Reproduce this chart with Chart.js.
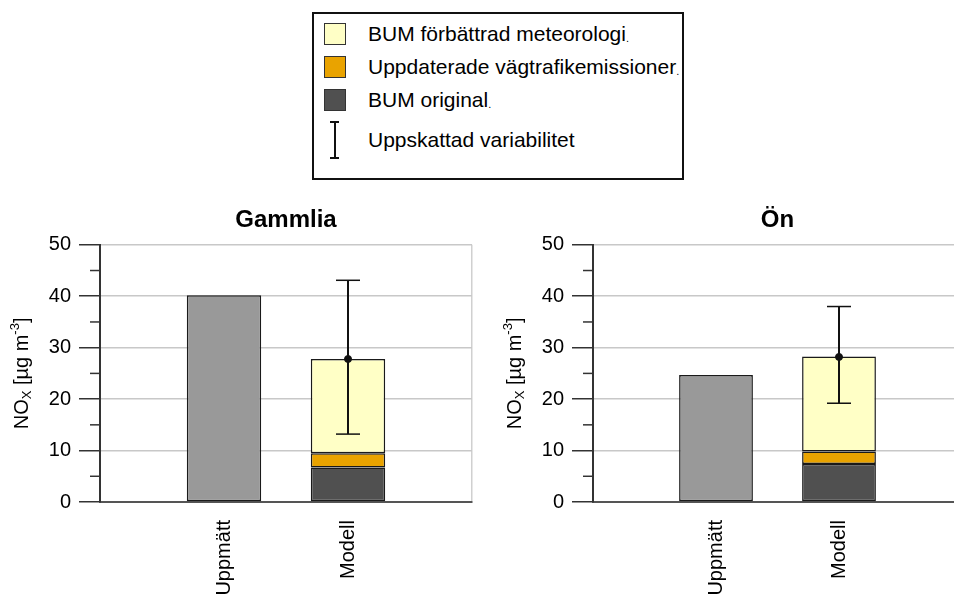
<!DOCTYPE html>
<html>
<head>
<meta charset="utf-8">
<script src="https://cdn.jsdelivr.net/npm/chart.js@4.4.0/dist/chart.umd.min.js"></script>
<style>
  html, body { margin: 0; padding: 0; background: #fff; overflow: hidden; width: 954px; height: 597px; }
  body { position: relative; font-family: "Liberation Sans", Arial, sans-serif; }
  #legend { position: absolute; left: 312px; top: 12px; width: 368px; height: 164px; border: 2px solid #111; }
  .item { position: absolute; left: 10px; height: 24px; display: flex; align-items: center; font-size: 21px; color: #000; }
  .item i { font-style: normal; font-size: 11px; align-self: flex-end; line-height: 16px; }
  .swatch { width: 22px; height: 22px; box-sizing: border-box; border: 1px solid #333; margin-right: 22px; }
  .errsym { width: 22px; height: 38px; margin-right: 22px; position: relative; }
  .errsym span { position: absolute; background: #111; }
  .wrap { position: absolute; top: 190px; height: 407px; }
</style>
</head>
<body>
<div id="legend"></div>
<div class="wrap" style="left:0; width:480px;"><canvas id="c1"></canvas></div>
<div class="wrap" style="left:480px; width:490px;"><canvas id="c2"></canvas></div>
<script>
// data
const categories = ['', 'Uppmätt', 'Modell', ''];
const stations = ['Gammlia', 'Ön'];
const uppmatt = [40.2, 24.7];
const bumOriginal = [6.7, 7.4];
const vagtrafik = [2.8, 2.4];      // added on top of BUM original
const meteorologi = [18.3, 18.5];  // added on top of that
const modelMean = [27.8, 28.2];
const errLow = [13.2, 19.2];
const errHigh = [43.1, 38.0];

const seriesLabels = ['BUM förbättrad meteorologi', 'Uppdaterade vägtrafikemissioner', 'BUM original'];
const seriesColors = ['#FFFFC6', '#E9A300', '#505050'];
const errLabel = 'Uppskattad variabilitet';

const FONT = '"Liberation Sans", Arial, sans-serif';

// html legend
const legend = document.getElementById('legend');
const rowTops = [8, 41, 74];
seriesLabels.forEach((lab, i) => {
  const d = document.createElement('div');
  d.className = 'item';
  d.style.top = rowTops[i] + 'px';
  d.innerHTML = '<div class="swatch" style="background:' + seriesColors[i] + '"></div>' + lab + '<i>.</i>';
  legend.appendChild(d);
});
const e = document.createElement('div');
e.className = 'item';
e.style.top = '107px';
e.style.height = '38px';
e.innerHTML = '<div class="errsym"><span style="left:6px;top:0;width:9px;height:2px"></span>' +
  '<span style="left:10px;top:0;width:2px;height:38px"></span>' +
  '<span style="left:6px;top:36px;width:9px;height:2px"></span></div>' + errLabel;
legend.appendChild(e);

// y axis title with sub/superscript
const yTitlePlugin = {
  id: 'yTitle',
  afterDraw(chart) {
    const ctx = chart.ctx, a = chart.chartArea;
    const parts = [['NO', 0], ['X', 1], [' [µg m', 0], ['-3', -1], [']', 0]];
    ctx.save();
    ctx.translate(a.left - 78, (a.top + a.bottom) / 2);
    ctx.rotate(-Math.PI / 2);
    ctx.fillStyle = '#000';
    ctx.textBaseline = 'middle';
    const fontFor = p => (p[1] ? '13px ' : '20px ') + FONT;
    let w = 0;
    parts.forEach(p => { ctx.font = fontFor(p); w += ctx.measureText(p[0]).width; });
    let x = -w / 2;
    parts.forEach(p => {
      ctx.font = fontFor(p);
      ctx.fillText(p[0], x, p[1] === 1 ? 5 : p[1] === -1 ? -7 : 0);
      x += ctx.measureText(p[0]).width;
    });
    ctx.restore();
  }
};

// minor ticks at 5, 15, ... and error bars
const extrasPlugin = {
  id: 'extras',
  afterDatasetsDraw(chart, args, opts) {
    const ctx = chart.ctx, xs = chart.scales.x, ys = chart.scales.y;
    ctx.save();
    ctx.strokeStyle = '#333';
    ctx.lineWidth = 1.5;
    ys.ticks.forEach(t => {
      if (t.value % 10 !== 0) {
        const y = ys.getPixelForValue(t.value);
        ctx.beginPath();
        ctx.moveTo(xs.left - 10, y);
        ctx.lineTo(xs.left, y);
        ctx.stroke();
      }
    });
    const x = xs.getPixelForValue(opts.index);
    const y1 = ys.getPixelForValue(opts.low), y2 = ys.getPixelForValue(opts.high);
    ctx.strokeStyle = '#111';
    ctx.lineWidth = 2;
    ctx.beginPath(); ctx.moveTo(x, y1); ctx.lineTo(x, y2); ctx.stroke();
    ctx.lineWidth = 1.5;
    [y1, y2].forEach(y => {
      ctx.beginPath(); ctx.moveTo(x - 12, y); ctx.lineTo(x + 12, y); ctx.stroke();
    });
    ctx.restore();
  }
};

function makeChart(id, s, axisWidth) {
  const only = (idx, v) => categories.map((c, i) => i === idx ? v : null);
  const ctx = document.getElementById(id).getContext('2d');
  return new Chart(ctx, {
    data: {
      labels: categories,
      datasets: [
        {
          type: 'line', label: 'mean', data: only(2, modelMean[s]), stack: 'mean',
          showLine: false, pointRadius: 3.5, pointBackgroundColor: '#111', pointBorderColor: '#111'
        },
        { type: 'bar', label: 'Uppmätt', data: only(1, uppmatt[s]), backgroundColor: '#999999' },
        { type: 'bar', label: seriesLabels[2], data: only(2, bumOriginal[s]), backgroundColor: seriesColors[2] },
        { type: 'bar', label: seriesLabels[1], data: only(2, vagtrafik[s]), backgroundColor: seriesColors[1] },
        { type: 'bar', label: seriesLabels[0], data: only(2, meteorologi[s]), backgroundColor: seriesColors[0] }
      ]
    },
    options: {
      responsive: true,
      maintainAspectRatio: false,
      animation: false,
      layout: { padding: { right: 8 } },
      datasets: {
        bar: { categoryPercentage: 1, barPercentage: 0.6, borderColor: '#1a1a1a', borderWidth: 1.5, borderSkipped: false }
      },
      plugins: {
        legend: { display: false },
        tooltip: { enabled: false },
        title: {
          display: true, text: stations[s], color: '#000', fullSize: false,
          font: { family: FONT, size: 24, weight: 'bold' },
          padding: { top: 16, bottom: 10 }
        },
        extras: { index: 2, low: errLow[s], high: errHigh[s] }
      },
      scales: {
        x: {
          stacked: true,
          offset: false,
          afterFit: sc => { sc.height = 95; sc.paddingLeft = 0; sc.paddingRight = 0; },
          grid: { offset: false, drawTicks: false, lineWidth: 1.5, color: c => c.index === categories.length - 1 ? '#d0d0d0' : 'rgba(0,0,0,0)' },
          border: { color: '#555', width: 2 },
          ticks: { color: '#000', font: { family: FONT, size: 20 }, minRotation: 90, maxRotation: 90, autoSkip: false, padding: 18 }
        },
        y: {
          stacked: true,
          min: 0, max: 50,
          afterFit: sc => { sc.width = axisWidth; },
          grid: {
            lineWidth: 1.5, tickLength: 21, tickWidth: 1.5,
            color: c => (c.tick.value % 10 === 0 && c.tick.value !== 0) ? '#c8c8c8' : 'rgba(0,0,0,0)',
            tickColor: c => c.tick.value % 10 === 0 ? '#333' : 'rgba(0,0,0,0)'
          },
          border: { color: '#333', width: 2 },
          ticks: {
            stepSize: 5, autoSkip: false, padding: 8, color: '#000',
            font: { family: FONT, size: 20 },
            callback: v => v % 10 === 0 ? v : ''
          }
        }
      }
    },
    plugins: [yTitlePlugin, extrasPlugin]
  });
}

makeChart('c1', 0, 100);
makeChart('c2', 1, 113);
</script>
</body>
</html>
